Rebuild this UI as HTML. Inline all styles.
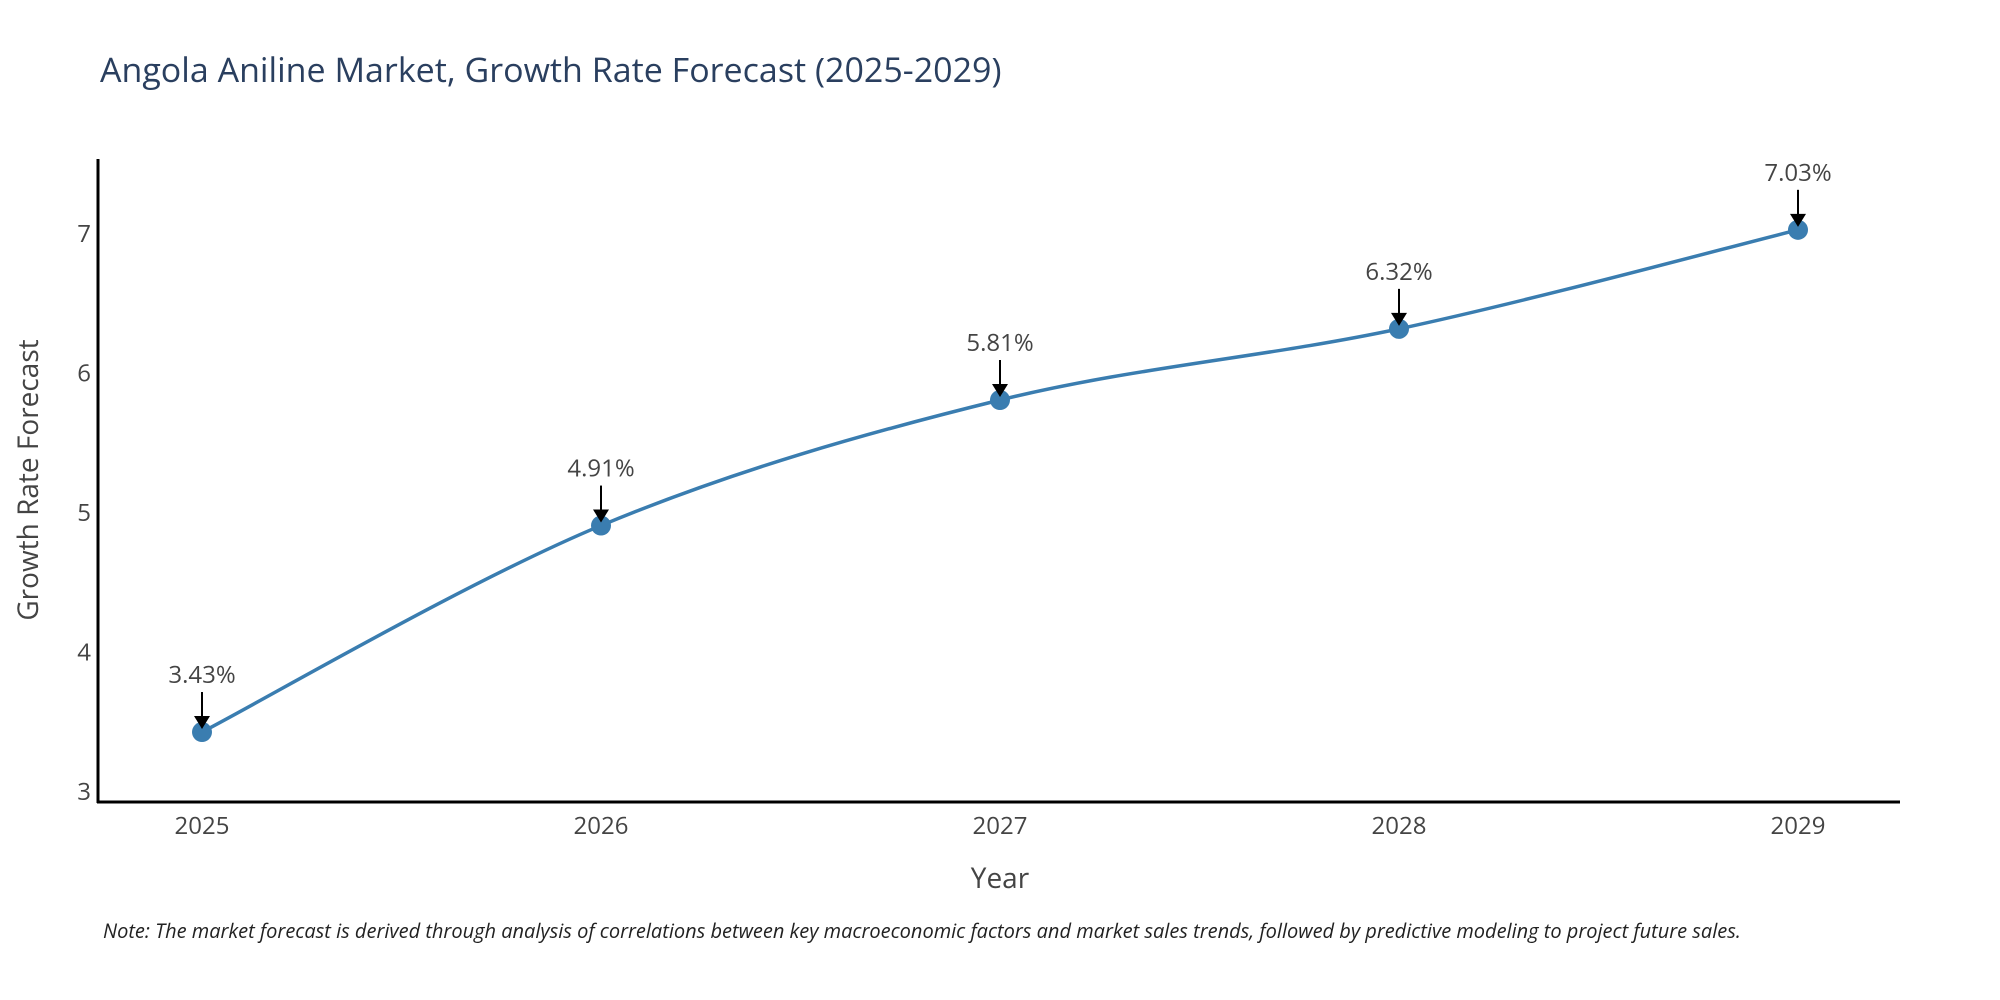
<!DOCTYPE html>
<html><head><meta charset="utf-8">
<style>
body{margin:0;background:#fff;}
svg{display:block;font-family:"Open Sans","Liberation Sans",sans-serif;}
</style></head>
<body>
<svg id="chart" width="2000" height="1000" viewBox="0 0 2000 1000">
<text x="100" y="82" font-size="34" fill="#2a3f5f">Angola Aniline Market, Growth Rate Forecast (2025-2029)</text>
<line x1="98" y1="159" x2="98" y2="803" stroke="#000" stroke-width="3"/>
<line x1="97" y1="802" x2="1900" y2="802" stroke="#000" stroke-width="3"/>
<g id="yticks"></g><g id="xticks"></g>
<path id="series" fill="none" stroke="#3a7db0" stroke-width="3.5"/>
<g id="points"></g>
<text x="1000" y="888" font-size="28" fill="#444" text-anchor="middle">Year</text>
<text transform="translate(38,480) rotate(-90)" font-size="28" fill="#444" text-anchor="middle">Growth Rate Forecast</text>
<text x="103" y="938" font-size="20" font-style="italic" fill="#222">Note: The market forecast is derived through analysis of correlations between key macroeconomic factors and market sales trends, followed by predictive modeling to project future sales.</text>
</svg>
<script>
const years = [2025, 2026, 2027, 2028, 2029];
const values = [3.43, 4.91, 5.81, 6.32, 7.03];
const labels = ["3.43%", "4.91%", "5.81%", "6.32%", "7.03%"];
const yTicks = [3, 4, 5, 6, 7];

const NS = "http://www.w3.org/2000/svg";
function xs(v){ return 202 + (v - 2025) * 399; }
function ys(v){ return 792 - (v - 3) * 139.5; }
function mk(tag, attrs, parent){
  const e = document.createElementNS(NS, tag);
  for (const k in attrs) e.setAttribute(k, attrs[k]);
  parent.appendChild(e); return e;
}
const yt = document.getElementById('yticks');
yTicks.forEach(t => {
  const e = mk('text', {x: 91, y: ys(t) + 8, 'font-size': 24, fill: '#444', 'text-anchor': 'end'}, yt);
  
  
  e.textContent = t;
});
const xt = document.getElementById('xticks');
years.forEach(y => {
  const e = mk('text', {x: xs(y), y: 834, 'font-size': 24, fill: '#444', 'text-anchor': 'middle'}, xt);
  
  
  e.textContent = y;
});
const P = years.map((y, i) => [xs(y), ys(values[i])]);
let d = `M${P[0][0]},${P[0][1]}`;
for (let i = 0; i < P.length - 1; i++) {
  const p0 = P[i - 1] || P[i], p1 = P[i], p2 = P[i + 1], p3 = P[i + 2] || P[i + 1];
  const c1 = [p1[0] + (p2[0] - p0[0]) / 6, p1[1] + (p2[1] - p0[1]) / 6];
  const c2 = [p2[0] - (p3[0] - p1[0]) / 6, p2[1] - (p3[1] - p1[1]) / 6];
  d += ` C${c1[0]},${c1[1]} ${c2[0]},${c2[1]} ${p2[0]},${p2[1]}`;
}
document.getElementById('series').setAttribute('d', d);
const pts = document.getElementById('points');
years.forEach((y, i) => {
  const cx = xs(y), cy = ys(values[i]);
  const c = mk('circle', {cx: cx, cy: cy, r: 10, fill: '#3a7db0'}, pts);
  
  
  const ln = mk('line', {x1: cx, y1: cy - 40, x2: cx, y2: cy - 14, stroke: '#000', 'stroke-width': 2}, pts);
  
  
  const ah = mk('polygon', {points: `${cx-8},${cy-16} ${cx+8},${cy-16} ${cx},${cy-3}`, fill: '#000'}, pts);
  
  
  const t = mk('text', {x: cx, y: cy - 49, 'font-size': 24, fill: '#444', 'text-anchor': 'middle'}, pts);
  
  
  t.textContent = labels[i];
});
</script>
</body></html>
